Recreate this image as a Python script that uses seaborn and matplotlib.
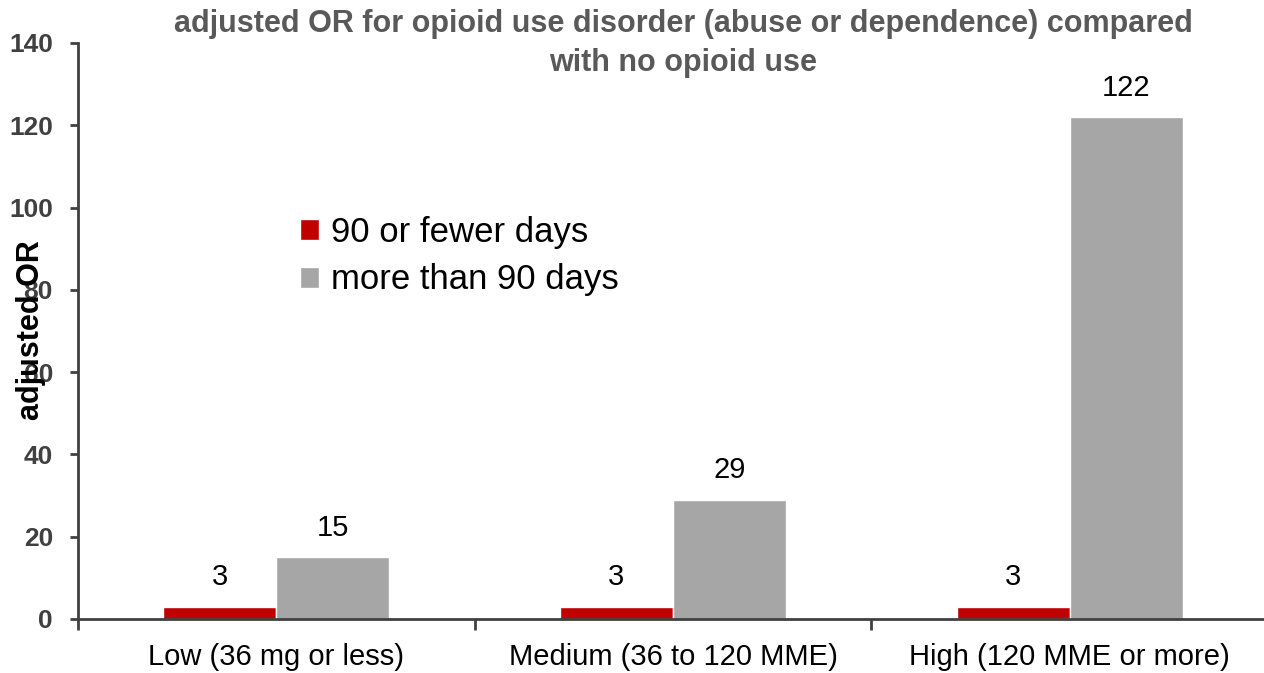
import matplotlib
matplotlib.use("Agg")
import matplotlib.pyplot as plt
import seaborn as sns
import pandas as pd
from matplotlib.ticker import FixedLocator

categories = ["Low (36 mg or less)", "Medium (36 to 120 MME)", "High (120 MME or more)"]
series_names = ["90 or fewer days", "more than 90 days"]
short_use = [3, 3, 3]
long_use = [15, 29, 122]
colors = ["#C00000", "#A6A6A6"]

df = pd.DataFrame({
    "category": categories * 2,
    "series": [series_names[0]] * 3 + [series_names[1]] * 3,
    "value": short_use + long_use,
})

sns.set_theme(style="white")
plt.rcParams['font.family'] = ['Liberation Sans', 'DejaVu Sans']

fig = plt.figure(figsize=(12.64, 6.73), dpi=100)
ax = fig.add_axes([78 / 1264, 1 - 619 / 673, (1268 - 78) / 1264, (619 - 43) / 673])

sns.barplot(data=df, x="category", y="value", hue="series", palette=colors,
            width=0.57, ax=ax, saturation=1, dodge=True, legend=True)

ax.set_xlim(-0.5, 2.5)
ax.set_ylim(0, 140)
ax.set_yticks(range(0, 141, 20))

for cont in ax.containers:
    ax.bar_label(cont, labels=[f"{v:g}" for v in cont.datavalues], padding=11,
                 fontsize=21, color="black")

spine_col = "#404040"
for s in ["top", "right"]:
    ax.spines[s].set_visible(False)
for s in ["left", "bottom"]:
    ax.spines[s].set_color(spine_col)
    ax.spines[s].set_linewidth(2)

ax.tick_params(axis="y", direction="out", length=6, width=2, color=spine_col,
               labelsize=19, labelcolor="#404040", left=True, pad=12)
for lbl in ax.get_yticklabels():
    lbl.set_fontweight("bold")
ax.tick_params(axis="x", which="major", length=0, labelsize=21, labelcolor="black", pad=17)
ax.xaxis.set_minor_locator(FixedLocator([-0.5, 0.5, 1.5, 2.5]))
ax.tick_params(axis="x", which="minor", direction="out", length=8, width=2,
               color=spine_col, bottom=True)

ax.set_xlabel("")
ax.set_ylabel("")
fig.text(31 / 1264, 1 - 330 / 673, "adjusted OR", rotation=90, ha="center", va="center",
         fontsize=22, fontweight="bold", color="black")

fig.text(683 / 1264, 1 - 9 / 673,
         "adjusted OR for opioid use disorder (abuse or dependence) compared\nwith no opioid use",
         ha="center", va="top", fontsize=22, fontweight="bold", color="#595959",
         linespacing=1.4)

leg = ax.legend(loc="upper left", bbox_to_anchor=((286 - 78) / (1268 - 78), (619 - 202) / 576),
                frameon=False, fontsize=25, handlelength=0.55, handleheight=0.55,
                handletextpad=0.35, labelspacing=0.42, borderaxespad=0)
for t in leg.get_texts():
    t.set_color("black")
ax.grid(False)

fig.savefig("out.png", dpi=100)
